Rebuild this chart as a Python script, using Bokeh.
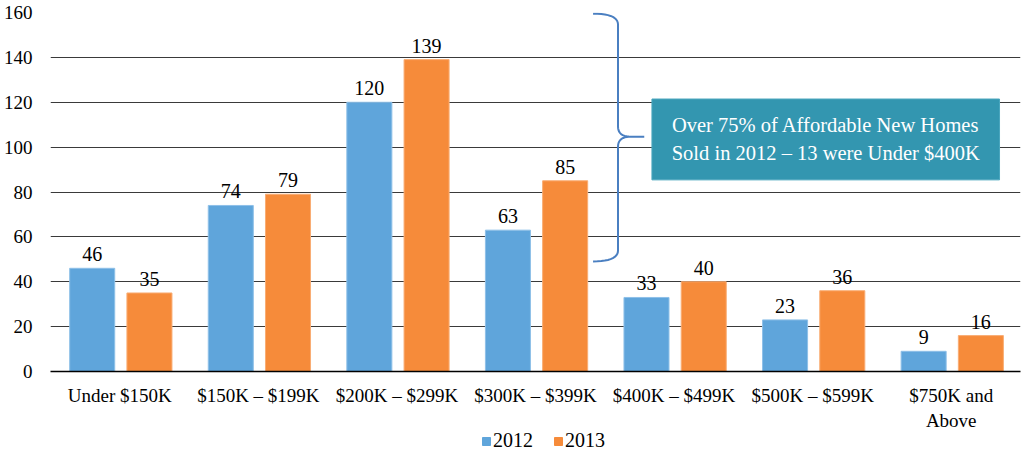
import numpy as np
from bokeh.plotting import figure
from bokeh.layouts import column
from bokeh.models import (FactorRange, Range1d, FixedTicker, ColumnDataSource,
                          Legend, LegendItem)
from bokeh.transform import dodge
from bokeh.core.properties import value
from bokeh.embed import file_html
from bokeh.resources import INLINE

# ---------------- data ----------------
categories = ["Under $150K", "$150K \u2013 $199K", "$200K \u2013 $299K",
              "$300K \u2013 $399K", "$400K \u2013 $499K", "$500K \u2013 $599K",
              "$750K and\nAbove"]
sales_2012 = [46, 74, 120, 63, 33, 23, 9]
sales_2013 = [35, 79, 139, 85, 40, 36, 16]
series_names = ["2012", "2013"]
y_ticks = [0, 20, 40, 60, 80, 100, 120, 140, 160]
note_lines = ["Over 75% of Affordable New Homes",
              "Sold in 2012 \u2013 13 were Under $400K"]

FONT = "Liberation Serif"
BLUE, BLUE_EDGE = "#5fa5db", "#8ec0e8"
ORANGE, ORANGE_EDGE = "#f68b3a", "#f9ad74"
TEAL = "#3396b0"
BRACE = "#4a7fc1"

src = ColumnDataSource(dict(
    cat=categories, y12=sales_2012, y13=sales_2013,
    t12=[str(v) for v in sales_2012], t13=[str(v) for v in sales_2013]))

FRAME_BOTTOM = 372
MAIN_H, LEG_H = 433, 24
p = figure(x_range=FactorRange(*categories, range_padding=0),
           y_range=Range1d(0, 160), width=1021, height=MAIN_H,
           output_backend="svg", toolbar_location=None,
           min_border_left=48, min_border_right=1, min_border_top=12,
           min_border_bottom=MAIN_H - FRAME_BOTTOM)
p.outline_line_color = None
p.background_fill_color = "white"

OFF_A, OFF_B = -0.199, 0.214
W = 0.325
r1 = p.vbar(x=dodge("cat", OFF_A, range=p.x_range), top="y12", width=W,
            source=src, fill_color=BLUE, line_color=BLUE_EDGE, line_width=1)
r2 = p.vbar(x=dodge("cat", OFF_B, range=p.x_range), top="y13", width=W,
            source=src, fill_color=ORANGE, line_color=ORANGE_EDGE, line_width=1)

lbl = dict(text_font=value(FONT), text_font_size="20px", text_color="black",
           text_align="center", text_baseline="bottom", y_offset=-7)
p.text(x=dodge("cat", OFF_A, range=p.x_range), y="y12", text="t12", source=src, **lbl)
p.text(x=dodge("cat", OFF_B, range=p.x_range), y="y13", text="t13", source=src, **lbl)

# ---------------- axes / grid ----------------
p.yaxis.ticker = FixedTicker(ticks=y_ticks)
p.yaxis.axis_line_color = None
p.yaxis.major_tick_line_color = None
p.yaxis.minor_tick_line_color = None
p.yaxis.major_label_standoff = 12
p.xaxis.axis_line_color = "black"
p.xaxis.axis_line_width = 1.5
p.xaxis.major_tick_line_color = None
p.xaxis.major_label_standoff = 7
for ax in (p.xaxis, p.yaxis):
    ax.major_label_text_font = FONT
    ax.major_label_text_font_size = "19px"
    ax.major_label_text_color = "black"
p.xgrid.grid_line_color = None
p.ygrid.grid_line_color = "#3a3a3a"
p.ygrid.grid_line_width = 1

# ---------------- annotation: brace + note box ----------------
# numeric (synthetic) x coordinates on the categorical range: 0..7
PX_PER_X = 138.86   # pixels per category
PX_PER_Y = 2.248    # pixels per unit
def to_data(px, py):
    return (px - 48) / PX_PER_X, (FRAME_BOTTOM - py) / PX_PER_Y

def quad(p0, c, p1, n=12):
    t = np.linspace(0, 1, n)[:, None]
    p0, c, p1 = map(np.array, (p0, c, p1))
    return (1 - t) ** 2 * p0 + 2 * (1 - t) * t * c + t ** 2 * p1

end_x, spine_x, tip_x = 591.7, 616.7, 643.0
top_y, tip_y, bot_y = 13.5, 136.7, 261.7
segs = [
    quad((end_x, top_y), (spine_x, top_y), (spine_x, top_y + 11)),
    quad((spine_x, tip_y - 10), (spine_x, tip_y), (spine_x + 13, tip_y)),
    np.array([(tip_x, tip_y)]),
    quad((spine_x + 13, tip_y), (spine_x, tip_y), (spine_x, tip_y + 10)),
    quad((spine_x, bot_y - 11), (spine_x, bot_y), (end_x, bot_y)),
]
pts = np.vstack(segs)
bx, by = to_data(pts[:, 0], pts[:, 1])
p.line(x=list(bx), y=list(by), line_color=BRACE, line_width=2)

box_l, box_b = to_data(650.7, 180)
box_r, box_t = to_data(999, 99)
p.quad(left=[box_l], right=[box_r], bottom=[box_b], top=[box_t],
       fill_color=TEAL, line_color="#4aa6bd", line_width=1)
tx, ty1 = to_data(824.85, 125)
_, ty2 = to_data(824.85, 153)
p.text(x=[tx, tx], y=[ty1, ty2], text=note_lines,
       text_font=value(FONT), text_font_size="20.5px", text_color="white",
       text_align="center", text_baseline="middle")

# ---------------- legend (separate strip below) ----------------
lf = figure(width=1021, height=LEG_H, output_backend="svg",
            toolbar_location=None, x_axis_location=None, y_axis_location=None,
            min_border=0, x_range=Range1d(0, 1), y_range=Range1d(0, 1))
lf.outline_line_color = None
lf.grid.visible = False
# swatch renderers kept outside the visible range: only their legend glyphs show
l1 = lf.quad(left=[-3], right=[-2], bottom=[-3], top=[-2],
             fill_color=BLUE, line_color=BLUE)
l2 = lf.quad(left=[-3], right=[-2], bottom=[-3], top=[-2],
             fill_color=ORANGE, line_color=ORANGE)
legend = Legend(items=[LegendItem(label=series_names[0], renderers=[l1]),
                       LegendItem(label=series_names[1], renderers=[l2])],
                orientation="horizontal", location=(431, 5),
                glyph_width=10, glyph_height=10, label_standoff=2, spacing=20,
                padding=0, margin=0, border_line_color=None,
                background_fill_alpha=0, label_text_font=FONT,
                label_text_color="black",
                label_text_font_size="20px", label_height=18)
lf.add_layout(legend)

layout = column(p, lf, spacing=0)
open("out.html", "w").write(file_html(layout, INLINE))
